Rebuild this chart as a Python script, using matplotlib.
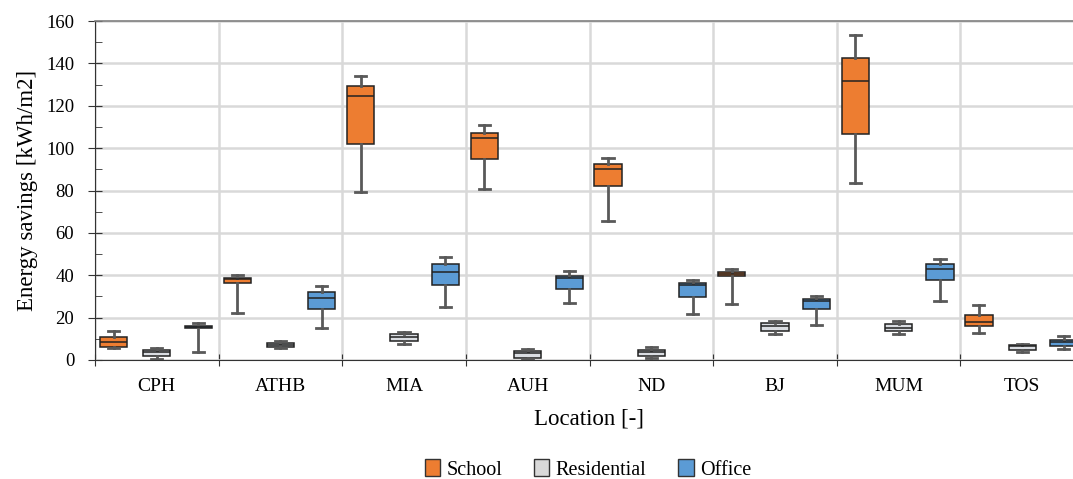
import matplotlib.pyplot as plt
from matplotlib.patches import Patch
from matplotlib.ticker import MultipleLocator

# locations and building types
locations = ['CPH', 'ATHB', 'MIA', 'AUH', 'ND', 'BJ', 'MUM', 'TOS']
types = ['School', 'Residential', 'Office']

# box stats per type, one row per location: [whislo, q1, med, q3, whishi]
school = [
    [5.5, 6.3, 8.6, 11.0, 13.7],
    [22.3, 36.2, 38.1, 38.9, 40.0],
    [79.1, 102.1, 124.7, 129.3, 133.9],
    [80.7, 94.7, 104.8, 107.3, 110.7],
    [65.6, 82.1, 90.0, 92.5, 95.5],
    [26.6, 39.5, 40.7, 41.5, 42.9],
    [83.4, 106.8, 131.7, 142.5, 153.5],
    [12.9, 15.9, 18.1, 21.1, 26.1],
]
residential = [
    [0.6, 2.0, 3.6, 4.7, 5.5],
    [5.8, 6.1, 7.1, 7.9, 9.0],
    [7.7, 9.0, 10.7, 12.1, 13.4],
    [0.5, 1.1, 3.2, 4.1, 5.0],
    [1.1, 2.0, 3.6, 4.7, 6.0],
    [12.3, 13.7, 16.0, 17.3, 18.2],
    [12.4, 13.7, 15.0, 16.8, 18.2],
    [3.9, 4.7, 6.7, 7.1, 7.7],
]
office = [
    [3.9, 15.1, 15.7, 16.2, 17.6],
    [15.0, 24.1, 29.4, 31.9, 35.1],
    [25.0, 35.3, 41.5, 45.1, 48.8],
    [27.0, 33.7, 38.5, 39.8, 42.0],
    [21.8, 29.9, 35.2, 36.2, 37.6],
    [16.5, 24.2, 27.8, 28.8, 30.4],
    [27.7, 37.9, 42.8, 45.1, 47.7],
    [5.2, 6.6, 8.5, 9.4, 11.3],
]
colors = ['#ED7D31', '#DADDE2', '#5B9BD5']
legend_colors = ['#ED7D31', '#D9D9D9', '#5B9BD5']

plt.rcParams['font.family'] = 'Liberation Serif'

fig = plt.figure(figsize=(10.73, 4.79), dpi=100)
ax = fig.add_axes([95 / 1073, 1 - 360 / 479, 989 / 1073, 339 / 479])

offsets = [-0.35, 0.0, 0.335]
for data, off, col in zip([school, residential, office], offsets, colors):
    stats = []
    for row in data:
        lo, q1, med, q3, hi = row
        stats.append({'whislo': lo, 'q1': q1, 'med': med, 'q3': q3,
                      'whishi': hi, 'fliers': []})
    pos = [i + 0.5 + off for i in range(len(locations))]
    ax.bxp(stats, positions=pos, widths=0.22, capwidths=0.09,
           patch_artist=True, showfliers=False, manage_ticks=False,
           boxprops=dict(facecolor=col, edgecolor='#222222', linewidth=1.1),
           medianprops=dict(color='#222222', linewidth=1.1),
           whiskerprops=dict(color='#595959', linewidth=2),
           capprops=dict(color='#595959', linewidth=2),
           zorder=3)

ax.set_xlim(0, 8)
ax.set_ylim(0, 160)

# x: tick marks at group borders, labels at group centers
ax.set_xticks(range(0, 9))
ax.set_xticklabels([])
ax.set_xticks([i + 0.5 for i in range(8)], minor=True)
ax.set_xticklabels(locations, minor=True, fontsize=14)
ax.tick_params(axis='x', which='minor', length=0, pad=13)
ax.tick_params(axis='x', which='major', length=9, direction='inout', color='#333333')

ax.yaxis.set_major_locator(MultipleLocator(20))
ax.yaxis.set_minor_locator(MultipleLocator(10))
ax.tick_params(axis='y', which='major', length=10, direction='inout', labelsize=13.5,
               color='#333333', pad=10)
ax.tick_params(axis='y', which='minor', length=5, direction='in', color='#333333')

ax.grid(True, which='major', color='#D9D9D9', linewidth=1.8, zorder=0)
ax.set_axisbelow(True)

ax.spines['top'].set_color('#7F7F7F')
ax.spines['top'].set_linewidth(1.2)
ax.spines['right'].set_visible(False)
ax.spines['left'].set_color('#333333')
ax.spines['bottom'].set_color('#333333')

ax.set_ylabel('Energy savings [kWh/m2]', fontsize=16.5, labelpad=6)
ax.set_xlabel('Location [-]', fontsize=16.5, labelpad=10)

handles = [Patch(facecolor=c, edgecolor='#333333', label=t)
           for c, t in zip(legend_colors, types)]
fig.legend(handles=handles, loc='center', bbox_to_anchor=(0.548, 0.02), ncol=3,
           frameon=False, prop={'size': 14.5}, borderpad=0.2,
           handlelength=0.75, handleheight=0.9, handletextpad=0.3, columnspacing=1.6)

fig.savefig('out.png', dpi=100)
